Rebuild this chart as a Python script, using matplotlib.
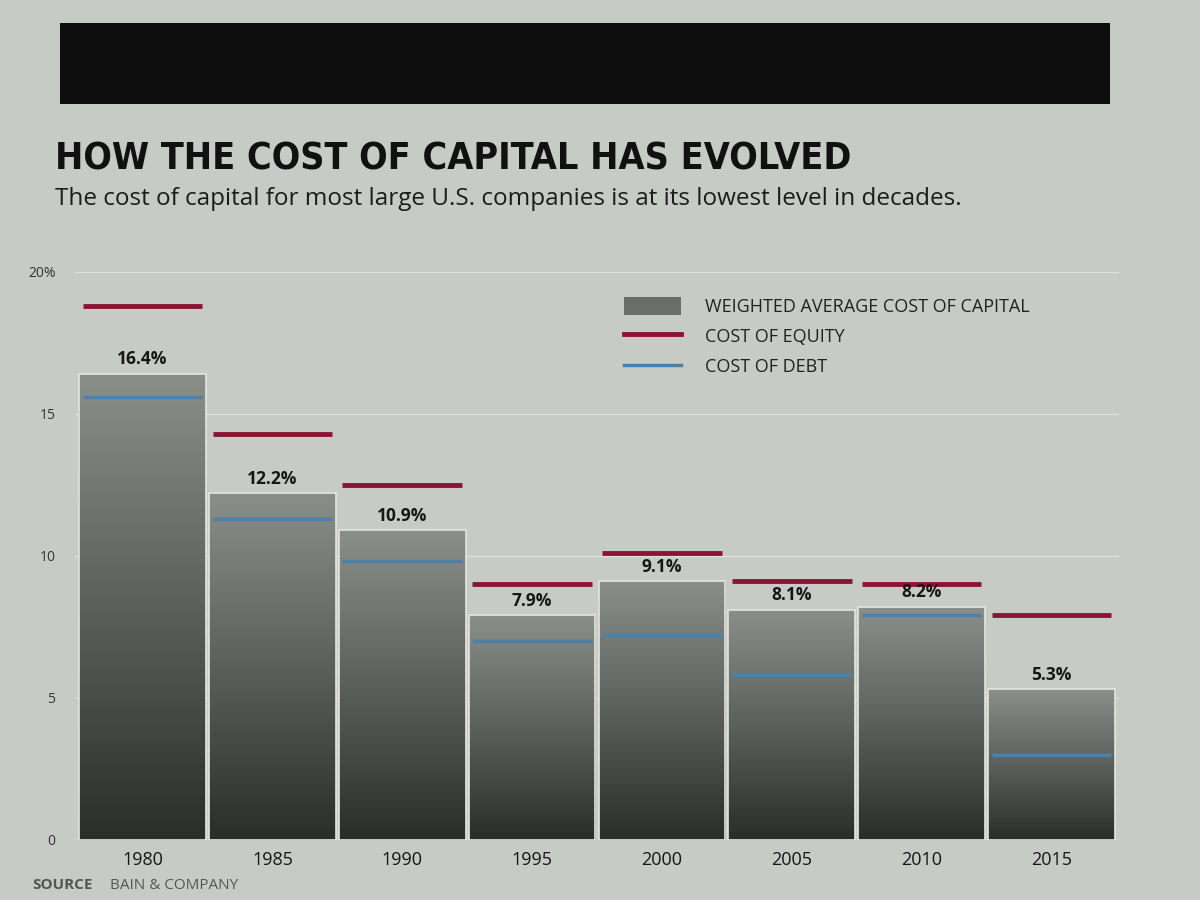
import numpy as np
import matplotlib.pyplot as plt
from matplotlib.colors import LinearSegmentedColormap
from matplotlib.patches import Patch, Rectangle
from matplotlib.lines import Line2D

years  = ['1980', '1985', '1990', '1995', '2000', '2005', '2010', '2015']
wacc   = [16.4, 12.2, 10.9, 7.9, 9.1, 8.1, 8.2, 5.3]
equity = [18.8, 14.3, 12.5, 9.0, 10.1, 9.1, 9.0, 7.9]
debt   = [15.6, 11.3, 9.8, 7.0, 7.2, 5.8, 7.9, 3.0]
yticks = [0, 5, 10, 15, 20]
ylabels = ['0', '5', '10', '15', '20%']

bg = '#c6ccc5'
eq_col = '#8c1535'
debt_col = '#4f80a8'
cmap = LinearSegmentedColormap.from_list('bars', ['#2b2d2b', '#5c605c', '#8a8f8a'])

fig = plt.figure(figsize=(12, 9), dpi=100)
fig.patch.set_facecolor(bg)

# black header band
fig.add_artist(Rectangle((0.05, 0.885), 0.875, 0.09, transform=fig.transFigure,
                         facecolor='#0e0e0e', edgecolor='none'))

fig.text(0.046, 0.803, 'HOW THE COST OF CAPITAL HAS EVOLVED',
         family='DejaVu Sans', fontstretch='condensed', fontweight='bold',
         fontsize=27, color='#111111', va='bottom')
fig.text(0.046, 0.766, 'The cost of capital for most large U.S. companies is at its lowest level in decades.',
         family=['Open Sans', 'DejaVu Sans'], fontsize=17.5, color='#1c1c1c', va='bottom')

ax = fig.add_axes([0.0625, 0.067, 0.87, 0.631])
ax.set_facecolor(bg)
w = 0.975
x = np.arange(len(years))
grad = np.linspace(1, 0, 256).reshape(-1, 1)
for i, v in enumerate(wacc):
    ax.imshow(grad, extent=[i - w / 2, i + w / 2, 0, v], cmap=cmap, aspect='auto',
              origin='upper', zorder=2, vmin=0, vmax=1)
    ax.annotate(f'{v}%', (i, v), xytext=(0, 4), textcoords='offset points',
                ha='center', va='bottom', fontsize=12.5, fontweight='bold',
                color='#161616', family=['Open Sans', 'DejaVu Sans'], zorder=5)
ax.bar(x, wacc, width=w, facecolor='none', edgecolor='#e2e5e0', linewidth=1.2, zorder=3)

for i in range(len(years)):
    ax.plot([i - 0.46, i + 0.46], [equity[i], equity[i]], color=eq_col, lw=3.5,
            solid_capstyle='butt', zorder=4)
    ax.plot([i - 0.46, i + 0.46], [debt[i], debt[i]], color=debt_col, lw=2.5,
            solid_capstyle='butt', zorder=4)

ax.set_xlim(-0.52, len(years) - 0.48)
ax.set_ylim(0, 20)
ax.set_yticks(yticks)
ax.set_yticklabels(ylabels)
ax.set_xticks(x)
ax.set_xticklabels(years)
ax.yaxis.grid(True, color='#dde1dc', lw=1)
ax.set_axisbelow(True)
ax.tick_params(axis='y', length=0, pad=14, labelsize=10, labelcolor='#333333')
ax.tick_params(axis='x', length=0, pad=8, labelsize=13, labelcolor='#161616')
for lab in ax.get_xticklabels() + ax.get_yticklabels():
    lab.set_family(['Open Sans', 'DejaVu Sans'])
for s in ax.spines.values():
    s.set_visible(False)

handles = [Patch(facecolor='#6a6e6a', edgecolor='none'),
           Line2D([], [], color=eq_col, lw=3.5),
           Line2D([], [], color=debt_col, lw=2.5)]
labels = ['WEIGHTED AVERAGE COST OF CAPITAL', 'COST OF EQUITY', 'COST OF DEBT']
leg = ax.legend(handles, labels, loc='upper left', bbox_to_anchor=(0.51, 0.985),
                frameon=False, handlelength=3.2, handleheight=1.2,
                handletextpad=1.3, labelspacing=0.6,
                prop={'family': ['Open Sans', 'DejaVu Sans'], 'size': 13})
for t in leg.get_texts():
    t.set_color('#222222')

fig.text(0.027, 0.012, 'SOURCE', fontsize=11, fontweight='bold', color='#555555',
         family=['Open Sans', 'DejaVu Sans'])
fig.text(0.092, 0.012, 'BAIN & COMPANY', fontsize=11, color='#555555',
         family=['Open Sans', 'DejaVu Sans'])

fig.savefig('out.png', dpi=100, facecolor=fig.get_facecolor())
